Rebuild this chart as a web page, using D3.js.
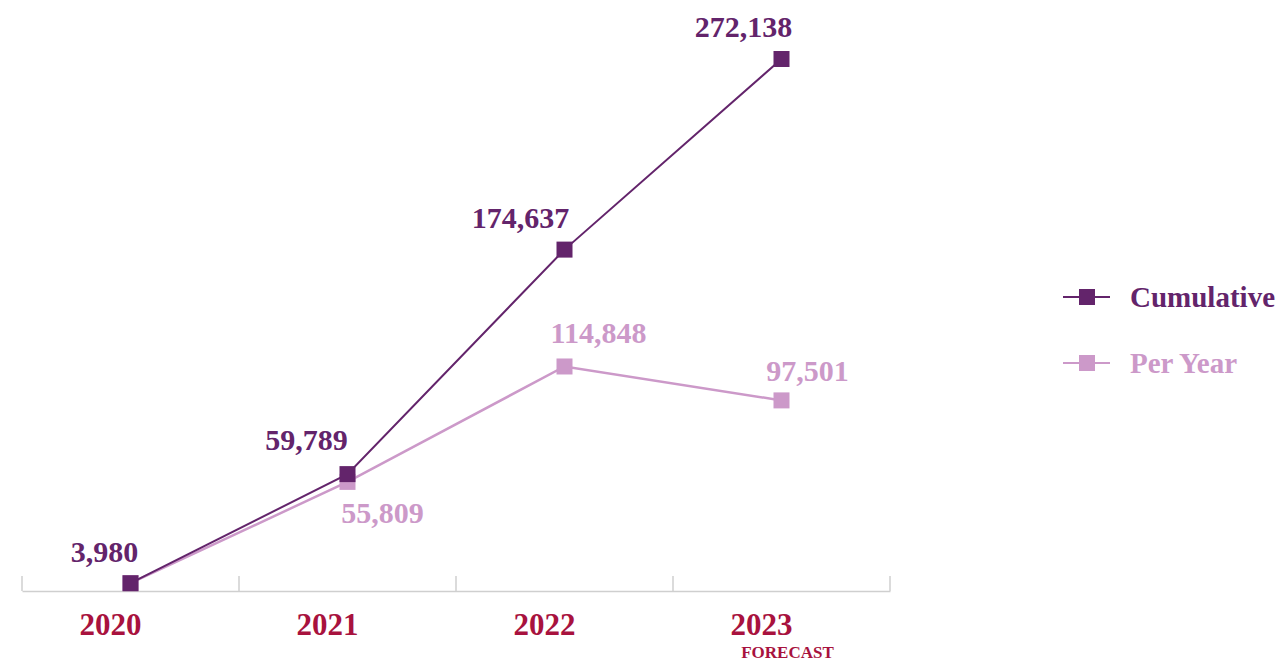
<!DOCTYPE html>
<html>
<head>
<meta charset="utf-8">
<script src="https://cdn.jsdelivr.net/npm/d3@7"></script>
<style>
body{margin:0;background:#fff;}
text{font-family:"Liberation Serif","DejaVu Serif",serif;font-weight:bold;}
</style>
</head>
<body>
<div id="chart"></div>
<script>
var years = ["2020","2021","2022","2023"];
var cumulative = [3980, 59789, 174637, 272138];
var perYear = [3980, 55809, 114848, 97501];
var seriesNames = ["Cumulative","Per Year"];

var W = 1278, H = 661;
var colCum = "#63246b", colPer = "#cc99c9", colAxis = "#a8123e";

var svg = d3.select("#chart").append("svg")
  .attr("width", W).attr("height", H);

var x = d3.scaleBand().domain(years).range([22, 890]);
var y = d3.scaleLinear().domain([0, d3.max(cumulative)]).range([591, 59]);

// axis
var axis = d3.axisBottom(x).tickSize(0).tickFormat("");
var ag = svg.append("g").attr("transform","translate(0,591)").call(axis);
ag.select(".domain").attr("stroke","#cfcfcf").attr("stroke-width",1.5);
var edges = x.domain().map(function(d){return x(d);}).concat([x.range()[1]]);
svg.selectAll(".tk").data(edges).enter().append("line")
  .attr("x1",function(d){return d;}).attr("x2",function(d){return d;})
  .attr("y1",576).attr("y2",591)
  .attr("stroke","#cfcfcf").attr("stroke-width",1.5);
svg.selectAll(".yr").data(years).enter().append("text")
  .attr("x",function(d){return x(d)+x.bandwidth()/2-20;})
  .attr("y",635)
  .attr("text-anchor","middle")
  .attr("fill",colAxis)
  .style("font-size","31px")
  .text(String);
svg.append("text")
  .attr("x", x("2023")+x.bandwidth()/2+6).attr("y",658)
  .attr("text-anchor","middle").attr("fill",colAxis)
  .style("font-size","17px").text("FORECAST");

function cx(i){return x(years[i])+x.bandwidth()/2;}

function drawSeries(vals, col, sw){
  var line = d3.line().x(function(d,i){return cx(i);}).y(function(d){return y(d);});
  svg.append("path").datum(vals).attr("d",line)
    .attr("fill","none").attr("stroke",col).attr("stroke-width",sw);
  svg.selectAll(null).data(vals).enter().append("rect")
    .attr("x",function(d,i){return cx(i)-8;})
    .attr("y",function(d){return y(d)-8;})
    .attr("width",16).attr("height",16)
    .attr("fill",col);
}
drawSeries(perYear, colPer, 2.5);
drawSeries(cumulative, colCum, 2);

// value labels
var cumOff = [[-26,-21],[-41,-24],[-44,-22],[-38,-22]];
svg.selectAll(".lc").data(cumulative).enter().append("text")
  .attr("x",function(d,i){return cx(i)+cumOff[i][0];})
  .attr("y",function(d,i){return y(d)+cumOff[i][1];})
  .attr("text-anchor","middle").attr("fill",colCum)
  .style("font-size","30px")
  .text(function(d){return d3.format(",")(d);});
// 2020 per-year label is hidden behind the cumulative one
var perOff = [null,[35,41],[34,-23],[26,-19]];
var perLab = perYear.map(function(v,i){return {v:v,i:i};})
  .filter(function(d){return perOff[d.i]!==null;});
svg.selectAll(".lp").data(perLab).enter().append("text")
  .attr("x",function(d){return cx(d.i)+perOff[d.i][0];})
  .attr("y",function(d){return y(d.v)+perOff[d.i][1];})
  .attr("text-anchor","middle").attr("fill",colPer)
  .style("font-size","30px")
  .text(function(d){return d3.format(",")(d.v);});

// legend
var leg = svg.selectAll(".leg").data(seriesNames).enter().append("g")
  .attr("transform",function(d,i){return "translate(1063,"+(297+i*66)+")";});
leg.append("line").attr("x1",0).attr("x2",47).attr("y1",0).attr("y2",0)
  .attr("stroke",function(d,i){return i===0?colCum:colPer;}).attr("stroke-width",2);
leg.append("rect").attr("x",16).attr("y",-8).attr("width",16).attr("height",16)
  .attr("fill",function(d,i){return i===0?colCum:colPer;});
leg.append("text").attr("x",67).attr("y",10)
  .attr("fill",function(d,i){return i===0?colCum:colPer;})
  .style("font-size","29px").text(String);
</script>
</body>
</html>
